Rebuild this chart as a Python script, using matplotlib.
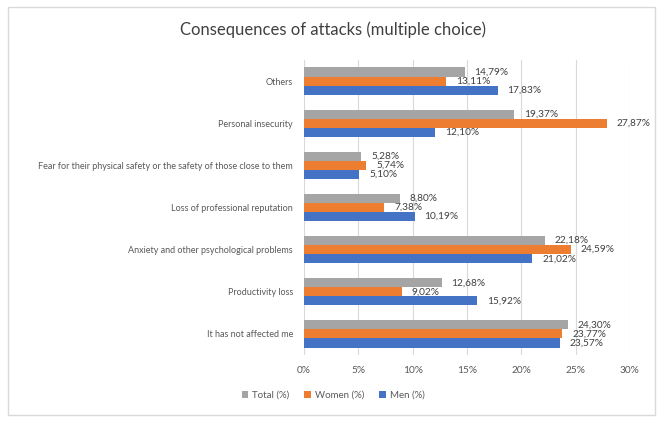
import numpy as np
import matplotlib
matplotlib.use('Agg')
import matplotlib.pyplot as plt
import matplotlib.patches as patches

plt.rcParams['font.family'] = ['Lato', 'DejaVu Sans']

categories = [
    'It has not affected me',
    'Productivity loss',
    'Anxiety and other psychological problems',
    'Loss of professional reputation',
    'Fear for their physical safety or the safety of those close to them',
    'Personal insecurity',
    'Others',
]
total = [24.30, 12.68, 22.18, 8.80, 5.28, 19.37, 14.79]
women = [23.77, 9.02, 24.59, 7.38, 5.74, 27.87, 13.11]
men = [23.57, 15.92, 21.02, 10.19, 5.10, 12.10, 17.83]
xticks = [0, 5, 10, 15, 20, 25, 30]

fig = plt.figure(figsize=(6.65, 4.24), dpi=100)
fig.patches.append(patches.Rectangle((8 / 665, 1 - 415 / 424), 647 / 665, 408 / 424,
                                     transform=fig.transFigure, fill=False,
                                     edgecolor='#D9D9D9', linewidth=1))
ax = fig.add_axes([304 / 665, 1 - 355 / 424, 326 / 665, 295 / 424])

y = np.arange(len(categories))
h = 0.215
series = [
    ('Total (%)', total, '#A5A5A5', h),
    ('Women (%)', women, '#ED7D31', 0),
    ('Men (%)', men, '#4472C4', -h),
]
for name, vals, col, off in series:
    ax.barh(y + off, vals, height=h, color=col, label=name, zorder=3)
    for yi, v in zip(y, vals):
        ax.text(v + 0.9, yi + off, ('%.2f' % v).replace('.', ',') + '%',
                va='center', ha='left', fontsize=7.3, color='#404040', zorder=4)

ax.set_xlim(0, 30)
ax.set_ylim(-0.5, len(categories) - 0.5)
ax.set_xticks(xticks)
ax.set_xticklabels(['%d%%' % t for t in xticks])
ax.set_yticks(y)
ax.set_yticklabels(categories)
ax.tick_params(axis='both', length=0, labelsize=7.3, labelcolor='#595959')
ax.tick_params(axis='y', pad=8, labelsize=6.5)
ax.tick_params(axis='x', pad=8)
ax.grid(axis='x', color='#D9D9D9', linewidth=0.8, zorder=0)
for s in ax.spines.values():
    s.set_visible(False)

fig.text(333 / 665, 1 - 30 / 424, 'Consequences of attacks (multiple choice)',
         ha='center', va='center', fontsize=12, color='#404040')

handles, labels = ax.get_legend_handles_labels()
fig.legend(handles, labels, loc='center', bbox_to_anchor=(333 / 665, 1 - 395 / 424),
           ncol=3, frameon=False, fontsize=7, handlelength=0.7, handleheight=0.7,
           handletextpad=0.4, columnspacing=1.5, labelcolor='#595959')

fig.savefig('out.png', dpi=100)
